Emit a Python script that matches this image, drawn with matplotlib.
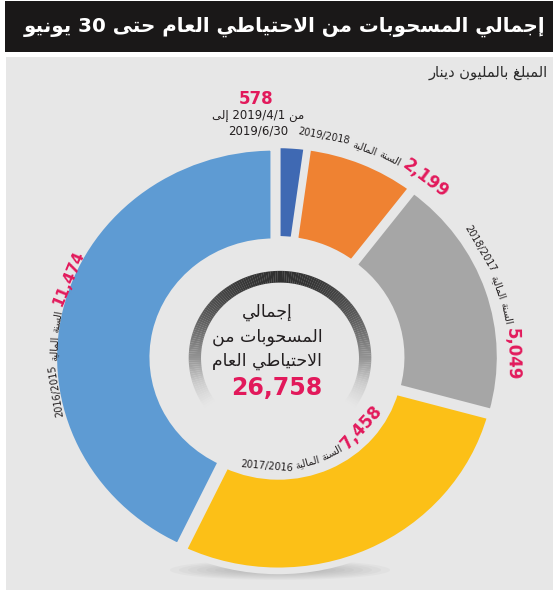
import numpy as np
import matplotlib
matplotlib.use("Agg")
import matplotlib.pyplot as plt
from matplotlib.patches import Rectangle, Wedge, Ellipse
from matplotlib.font_manager import FontProperties

# ---------------- data ----------------
title = "إجمالي المسحوبات من الاحتياطي العام حتى 30 يونيو"
unit_note = "المبلغ بالمليون دينار"
periods = [
    "من 2019/4/1 إلى\n2019/6/30",
    "السنة المالية 2019/2018",
    "السنة المالية 2018/2017",
    "السنة المالية 2017/2016",
    "السنة المالية 2016/2015",
]
amounts = [578, 2199, 5049, 7458, 11474]
center_lines = ["إجمالي", "المسحوبات من", "الاحتياطي العام"]

# ---------------- style ----------------
seg_colors = ["#3f69b3", "#ef8232", "#a6a6a6", "#fcc017", "#5e9bd3"]
BG = "#e7e7e7"
RED = "#e2195b"
INK = "#231f20"
FONT = "DejaVu Sans"

W_PX, H_PX = 553, 595
CX, CY = 277, 358          # donut centre (pixels from top-left)
SX, SY = 220, 210          # pixels per data unit

# ---------------- Arabic shaping (presentation forms) ----------------
_ISO = {
    "ء": (0xFE80, "U"), "آ": (0xFE81, "R"), "أ": (0xFE83, "R"), "ؤ": (0xFE85, "R"),
    "إ": (0xFE87, "R"), "ئ": (0xFE89, "D"), "ا": (0xFE8D, "R"), "ب": (0xFE8F, "D"),
    "ة": (0xFE93, "R"), "ت": (0xFE95, "D"), "ث": (0xFE99, "D"), "ج": (0xFE9D, "D"),
    "ح": (0xFEA1, "D"), "خ": (0xFEA5, "D"), "د": (0xFEA9, "R"), "ذ": (0xFEAB, "R"),
    "ر": (0xFEAD, "R"), "ز": (0xFEAF, "R"), "س": (0xFEB1, "D"), "ش": (0xFEB5, "D"),
    "ص": (0xFEB9, "D"), "ض": (0xFEBD, "D"), "ط": (0xFEC1, "D"), "ظ": (0xFEC5, "D"),
    "ع": (0xFEC9, "D"), "غ": (0xFECD, "D"), "ف": (0xFED1, "D"), "ق": (0xFED5, "D"),
    "ك": (0xFED9, "D"), "ل": (0xFEDD, "D"), "م": (0xFEE1, "D"), "ن": (0xFEE5, "D"),
    "ه": (0xFEE9, "D"), "و": (0xFEED, "R"), "ى": (0xFEEF, "R"), "ي": (0xFEF1, "D"),
}
_LAM_ALEF = {"آ": (0xFEF5, 0xFEF6), "أ": (0xFEF7, 0xFEF8),
             "إ": (0xFEF9, 0xFEFA), "ا": (0xFEFB, 0xFEFC)}


def _jtype(u):
    if isinstance(u, tuple):
        return "R"
    return _ISO[u][1] if u in _ISO else "U"


def shape_word(word):
    units, i = [], 0
    while i < len(word):
        c = word[i]
        if c == "ل" and i + 1 < len(word) and word[i + 1] in _LAM_ALEF:
            units.append(("LA", word[i + 1]))
            i += 2
        else:
            units.append(c)
            i += 1
    out = []
    for k, u in enumerate(units):
        t = _jtype(u)
        prev_t = _jtype(units[k - 1]) if k > 0 else "U"
        next_t = _jtype(units[k + 1]) if k + 1 < len(units) else "U"
        lp = t in "RD" and prev_t == "D"
        ln = t == "D" and next_t in "RD"
        if isinstance(u, tuple):
            iso, fin = _LAM_ALEF[u[1]]
            out.append(chr(fin if lp else iso))
        elif t == "U":
            out.append(u)
        else:
            base = _ISO[u][0]
            if t == "R":
                out.append(chr(base + (1 if lp else 0)))
            else:
                form = {(False, False): 0, (True, False): 1,
                        (False, True): 2, (True, True): 3}[(lp, ln)]
                out.append(chr(base + form))
    return "".join(out)


def is_arabic(w):
    return any("\u0600" <= ch <= "\u06ff" for ch in w)


def visual_words(text):
    """Words of a right-to-left line, shaped, in left-to-right display order."""
    vis = [shape_word(w)[::-1] if is_arabic(w) else w for w in text.split(" ")]
    return vis[::-1]


def ar(text):
    return " ".join(visual_words(text))


# ---------------- figure ----------------
fig = plt.figure(figsize=(W_PX / 100, H_PX / 100), dpi=100)
fig.patch.set_facecolor("white")

bg = fig.add_axes([0, 0, 1, 1], zorder=0)
bg.set_xlim(0, W_PX)
bg.set_ylim(H_PX, 0)
bg.axis("off")

bg.add_patch(Rectangle((5, 1), 548, 51, facecolor="#1a1818", edgecolor="none"))
bg.add_patch(Rectangle((6, 57), 547, 533, facecolor=BG, edgecolor="none"))
bg.text(545, 27, ar(title), color="white", fontsize=14.2, weight="bold",
        family=FONT, ha="right", va="center")
bg.text(548, 73, ar(unit_note), color="#2b2b2b", fontsize=10.5,
        family=FONT, ha="right", va="center")

# soft shadow under the ring
for k in range(8):
    bg.add_patch(Ellipse((280, 570), 220 - 18 * k, 20 - 2 * k,
                         facecolor="#7a7a7a", edgecolor="none", alpha=0.05))

ax = fig.add_axes([0, 0, 1, 1], zorder=1)
ax.patch.set_alpha(0)
ax.pie(amounts, colors=seg_colors, startangle=90, counterclock=False,
       radius=1.0, explode=[0.015] * len(amounts),
       wedgeprops=dict(width=0.45, edgecolor=BG, linewidth=4.8))
ax.set_aspect("auto")
ax.set_xlim((0 - CX) / SX, (W_PX - CX) / SX)
ax.set_ylim((CY - H_PX) / SY, CY / SY)
ax.axis("off")


def P(px, py):
    return (px - CX) / SX, (CY - py) / SY


# shaded ring around the total
ring_v = [0.19, 0.36, 0.58, 0.80, 0.905]
r_out, r_w = 0.415, 0.056
cx0 = 3 / SX
for a in np.arange(-90, 270, 1.5):
    mid = np.radians(a + 0.75)
    t = (1 - np.sin(mid)) / 2
    lv = np.interp(t, [0, 0.25, 0.5, 0.65, 0.78], ring_v)
    ax.add_patch(Wedge((cx0, 0), r_out, a, a + 1.6, width=r_w,
                       facecolor=(lv, lv, lv), edgecolor="none", zorder=2))

# centre text
cy_lines = [312, 337, 361]
for line, py in zip(center_lines, cy_lines):
    ax.text(*P(267, py), ar(line), fontsize=12.5, color=INK, family=FONT,
            ha="center", va="center", zorder=3)
ax.text(*P(277, 388), f"{sum(amounts):,}", fontsize=17, weight="bold",
        color=RED, family=FONT, ha="center", va="center", zorder=3)

# label for the latest (partial) period, set horizontally above its slice
first_lines = periods[0].split("\n")
ax.text(*P(256, 99), f"{amounts[0]:,}", fontsize=12, weight="bold", color=RED,
        family=FONT, ha="center", va="center")
ax.text(*P(258, 116), ar(first_lines[0]), fontsize=8.5, color=INK,
        family=FONT, ha="center", va="center")
ax.text(*P(258, 131), ar(first_lines[1]), fontsize=8.5, color=INK,
        family=FONT, ha="center", va="center")

renderer = fig.canvas.get_renderer()


def arc_words(words, theta_c, rb, clockwise=True, gap=3.0):
    widths = []
    for s, fs, wt, col in words:
        prop = FontProperties(family=FONT, size=fs, weight=wt)
        w, _, _ = renderer.get_text_width_height_descent(s, prop, ismath=False)
        widths.append(w)
    total = sum(widths) + gap * (len(words) - 1)

    def L(th):
        return rb * np.hypot(SX * np.sin(th), SY * np.cos(th))

    sign = -1 if clockwise else 1
    th0 = np.radians(theta_c)
    th = th0 - sign * (total / 2) / L(th0)
    for (s, fs, wt, col), w in zip(words, widths):
        thc = th + sign * (w / 2) / L(th)
        x, y = rb * np.cos(thc), rb * np.sin(thc)
        if clockwise:
            rot = np.degrees(np.arctan2(-np.cos(thc) * SY, np.sin(thc) * SX))
        else:
            rot = np.degrees(np.arctan2(np.cos(thc) * SY, -np.sin(thc) * SX))
        ax.text(x, y, s, fontsize=fs, weight=wt, color=col, family=FONT,
                rotation=rot, rotation_mode="anchor", ha="center",
                va="baseline", zorder=3)
        th = th + sign * (w + gap) / L(th)


# curved labels: (centre angle, baseline radius, clockwise, number size)
label_pos = {1: (65, 1.065, True, 12),
             2: (15, 1.045, True, 12),
             3: (-68, 0.53, False, 12),
             4: (173, 1.0, True, 11)}
for i, (ang, rb, cw, nfs) in label_pos.items():
    words = [(w, 7, "normal", INK) for w in visual_words(periods[i])]
    words.append((f"{amounts[i]:,}", nfs, "bold", RED))
    arc_words(words, ang, rb, clockwise=cw)

fig.savefig("out.png", dpi=100, facecolor=fig.get_facecolor())
